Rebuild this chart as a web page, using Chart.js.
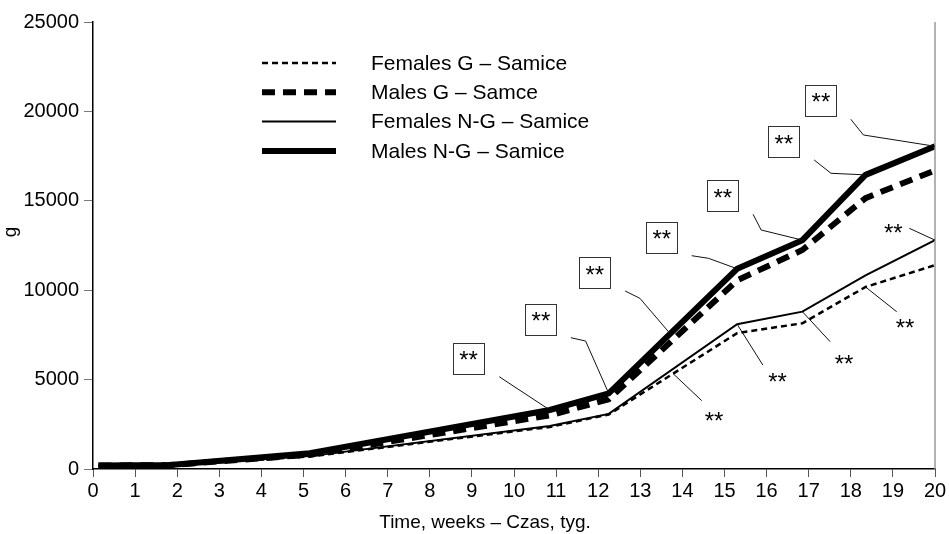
<!DOCTYPE html>
<html>
<head>
<meta charset="utf-8">
<script src="https://cdn.jsdelivr.net/npm/chart.js@4"></script>
<style>
  html, body { margin: 0; padding: 0; background: #fff; }
  #wrap { width: 949px; height: 534px; }
</style>
</head>
<body>
<div id="wrap"><canvas id="chart"></canvas></div>
<script>
// dane (tygodnie / masa w g)
var weeks     = [0.13, 1.83, 5.15, 10.85, 12.25, 15.3, 16.85, 18.35, 20];
var femalesG  = [180, 200, 700, 2350, 3050, 7600, 8150, 10180, 11400];
var malesG    = [190, 220, 800, 3000, 3900, 10550, 12250, 15150, 16700];
var femalesNG = [180, 210, 720, 2400, 3080, 8100, 8800, 10830, 12800];
var malesNG   = [200, 230, 880, 3300, 4230, 11200, 12800, 16450, 18050];

var seriesNames = ['Females G – Samice', 'Males G – Samce', 'Females N-G – Samice', 'Males N-G – Samice'];
var xTicks = [0, 1, 2, 3, 4, 5, 6, 7, 8, 9, 10, 11, 12, 13, 14, 15, 16, 17, 18, 19, 20];
var yTicks = [0, 5000, 10000, 15000, 20000, 25000];
var xTitle = 'Time, weeks – Czas, tyg.';
var yTitle = 'g';

// punkt serii i punkt na odcinku serii
function pt(series, i) { return [weeks[i], series[i]]; }
function on(series, w) {
  for (var i = 1; i < weeks.length; i++) {
    if (w <= weeks[i]) {
      var t = (w - weeks[i - 1]) / (weeks[i] - weeks[i - 1]);
      return [w, series[i - 1] + t * (series[i] - series[i - 1])];
    }
  }
  return pt(series, weeks.length - 1);
}

// oznaczenia ** w ramkach (nad liniami samców)
var boxLabels = [[8.92, 6170], [10.64, 8350], [11.92, 10962], [13.51, 12959], [14.96, 15269], [16.41, 18289], [17.29, 20599]];
var boxBends = [
  [[9.65, 5160]],
  [[11.35, 7344], [11.70, 7159]],
  [[12.64, 9955], [12.99, 9547]],
  [[14.22, 11930], [14.62, 11784]],
  [[15.68, 14245], [15.87, 13367]],
  [[17.13, 17282], [17.53, 16538]],
  [[18.00, 19559], [18.30, 18681]]
];
var boxTargets = [pt(malesNG, 3), pt(malesNG, 4), on(malesNG, 13.71), pt(malesNG, 5), pt(malesNG, 6), pt(malesNG, 7), pt(malesNG, 8)];

// oznaczenia ** bez ramek (przy liniach samic)
var starLabels = [[14.75, 3020], [16.26, 5162], [17.84, 6208], [19.29, 8205], [19.01, 13518]];
var starStarts = [[14.46, 3820], [15.91, 5817], [17.51, 7120], [19.09, 8798], [19.39, 13462]];
var starTargets = [on(femalesG, 13.78), pt(femalesNG, 5), pt(femalesNG, 6), pt(femalesG, 7), pt(femalesNG, 8)];

function toXY(series) {
  return series.map(function(v, i) { return { x: weeks[i], y: v }; });
}

var FONT = "'Liberation Sans', Arial, sans-serif";

var extras = {
  id: 'extras',
  afterDatasetsDraw: function(chart) {
    var ctx = chart.ctx, xs = chart.scales.x, ys = chart.scales.y, area = chart.chartArea;
    function px(p) { return [xs.getPixelForValue(p[0]), ys.getPixelForValue(p[1])]; }
    ctx.save();

    // prawa krawedz
    ctx.strokeStyle = '#999';
    ctx.lineWidth = 1.5;
    ctx.beginPath();
    ctx.moveTo(area.right, area.top);
    ctx.lineTo(area.right, area.bottom);
    ctx.stroke();

    // linie odniesienia
    ctx.strokeStyle = '#111';
    ctx.lineWidth = 1;
    boxLabels.forEach(function(lab, k) {
      var path = boxBends[k].concat([boxTargets[k]]).map(px);
      ctx.beginPath();
      ctx.moveTo(path[0][0], path[0][1]);
      for (var i = 1; i < path.length; i++) ctx.lineTo(path[i][0], path[i][1]);
      ctx.stroke();
    });
    starLabels.forEach(function(lab, k) {
      var a = px(starStarts[k]), b = px(starTargets[k]);
      ctx.beginPath();
      ctx.moveTo(a[0], a[1]);
      ctx.lineTo(b[0], b[1]);
      ctx.stroke();
    });

    // gwiazdki
    ctx.font = '24px ' + FONT;
    ctx.textAlign = 'center';
    ctx.textBaseline = 'alphabetic';
    ctx.fillStyle = '#000';
    boxLabels.forEach(function(lab) {
      var p = px(lab);
      ctx.fillStyle = '#fff';
      ctx.fillRect(p[0] - 15.5, p[1] - 15.5, 31, 31);
      ctx.strokeStyle = '#333';
      ctx.strokeRect(Math.round(p[0] - 15.5) + 0.5, Math.round(p[1] - 15.5) + 0.5, 31, 31);
      ctx.fillStyle = '#000';
      ctx.fillText('**', p[0], p[1] - 4 + 0.57 * 24);
    });
    starLabels.forEach(function(lab) {
      var p = px(lab);
      ctx.fillText('**', p[0], p[1] + 0.57 * 24);
    });

    // legenda
    var lx0 = area.left + 169, lx1 = area.left + 243, tx = area.left + 278, ly = area.top + 41, step = 29.3;
    ctx.font = '21px ' + FONT;
    ctx.textAlign = 'left';
    ctx.textBaseline = 'middle';
    chart.data.datasets.forEach(function(ds, i) {
      var y = ly + i * step;
      ctx.save();
      ctx.strokeStyle = ds.borderColor;
      ctx.lineWidth = ds.borderWidth;
      ctx.setLineDash(ds.borderDash || []);
      ctx.beginPath();
      ctx.moveTo(lx0, y);
      ctx.lineTo(lx1, y);
      ctx.stroke();
      ctx.restore();
      ctx.fillStyle = '#000';
      ctx.fillText(ds.label, tx, y + 1);
    });

    // tytuly osi
    ctx.font = '19px ' + FONT;
    ctx.textAlign = 'center';
    ctx.textBaseline = 'middle';
    ctx.fillText(xTitle, 485, 523);
    ctx.save();
    ctx.translate(16, 232);
    ctx.rotate(-Math.PI / 2);
    ctx.font = '19px ' + FONT;
    ctx.textBaseline = 'alphabetic';
    ctx.fillText(yTitle, 0, 0);
    ctx.restore();

    ctx.restore();
  }
};

var tickFont = { family: FONT, size: 20 };

new Chart(document.getElementById('chart'), {
  type: 'line',
  data: {
    datasets: [
      { label: seriesNames[0], data: toXY(femalesG), borderColor: '#000', borderWidth: 2.5, borderDash: [6, 4] },
      { label: seriesNames[1], data: toXY(malesG), borderColor: '#000', borderWidth: 6, borderDash: [13, 8] },
      { label: seriesNames[2], data: toXY(femalesNG), borderColor: '#000', borderWidth: 2 },
      { label: seriesNames[3], data: toXY(malesNG), borderColor: '#000', borderWidth: 6 }
    ]
  },
  options: {
    responsive: true,
    maintainAspectRatio: false,
    animation: false,
    elements: { point: { radius: 0 }, line: { tension: 0, fill: false, borderJoinStyle: 'miter' } },
    layout: { padding: { left: 0, right: 14, top: 22, bottom: 0 } },
    plugins: { legend: { display: false }, tooltip: { enabled: false } },
    scales: {
      x: {
        type: 'linear', min: 0, max: 20,
        afterBuildTicks: function(s) { s.ticks = xTicks.map(function(v) { return { value: v }; }); },
        afterFit: function(s) { s.height = 65; },
        ticks: { font: tickFont, color: '#000', autoSkip: false, maxRotation: 0, padding: 2,
                 callback: function(v) { return String(v); } },
        grid: { drawOnChartArea: false, drawTicks: true, tickLength: 8, color: '#555' },
        border: { display: true, color: '#000', width: 1.5 }
      },
      y: {
        min: 0, max: 25000,
        afterBuildTicks: function(s) { s.ticks = yTicks.map(function(v) { return { value: v }; }); },
        afterFit: function(s) { s.width = 93; },
        ticks: { font: tickFont, color: '#000', padding: 5,
                 callback: function(v) { return String(v); } },
        grid: { drawOnChartArea: false, drawTicks: true, tickLength: 9, color: '#777' },
        border: { display: true, color: '#000', width: 1.5 }
      }
    }
  },
  plugins: [extras]
});
</script>
</body>
</html>
